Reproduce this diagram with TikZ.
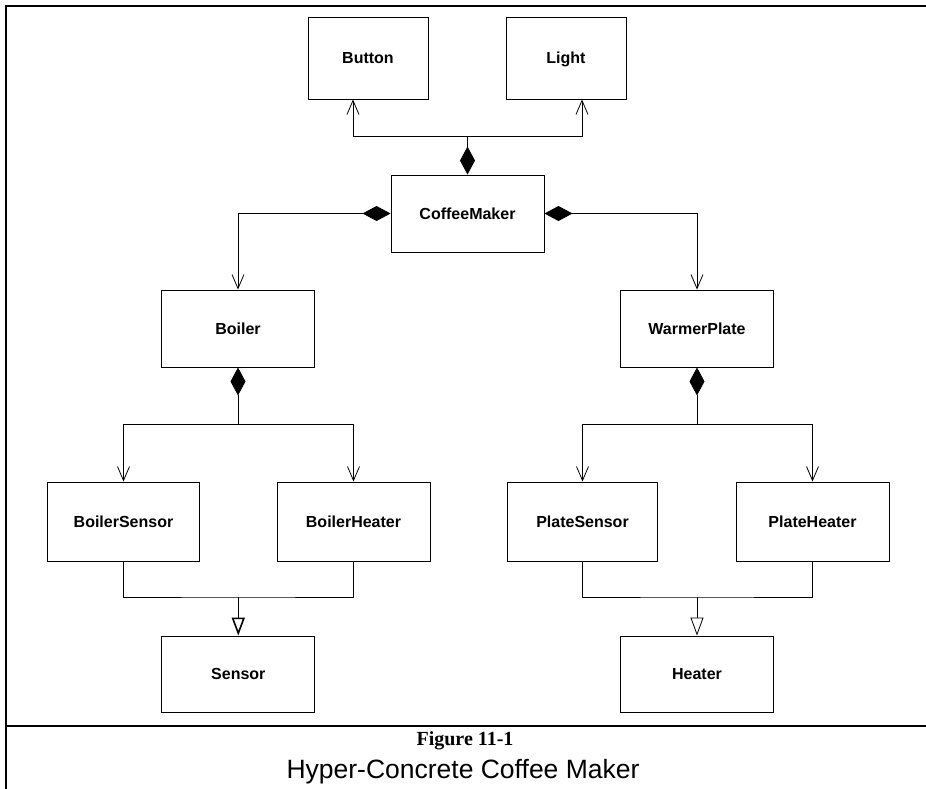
\documentclass[tikz,border=0pt]{standalone}
\usepackage{fontspec}
\setmainfont{Liberation Serif}
\setsansfont{Liberation Sans}
\usetikzlibrary{arrows.meta}
\begin{document}
\begin{tikzpicture}[x=1pt,y=-1pt,
  cls/.style={draw,line width=0.9pt,inner sep=0pt,minimum width=153pt,minimum height=77pt,
    text height=11.5pt,text depth=0pt,
    font=\sffamily\bfseries\fontsize{16}{18}\selectfont},
  link/.style={line width=0.8pt},
  comp/.style={link,{Diamond[length=28pt,width=15pt]}-{Straight Barb[length=14pt,width=12pt,line width=0.8pt]}},
  compstem/.style={link,{Diamond[length=28pt,width=15pt]}-},
  assoc/.style={link,-{Straight Barb[length=14pt,width=12pt,line width=0.8pt]}},
  gen/.style={link,-{Triangle[open,length=18pt,width=13pt,fill=white]}},
  frame/.style={line width=2pt}]
\useasboundingbox (0,0) rectangle (926,789);
% frame
\draw[frame] (6,789) -- (6,6) -- (926,6);
\draw[frame] (6,726) -- (926,726);
% classes
\node[cls,minimum width=120pt,minimum height=82pt] (button) at (368,58) {Button};
\node[cls,minimum width=120pt,minimum height=82pt] (light) at (566,58) {Light};
\node[cls] (coffee) at (467.5,213.5) {CoffeeMaker};
\node[cls] (boiler) at (238,328.5) {Boiler};
\node[cls] (warmer) at (697,328.5) {WarmerPlate};
\node[cls,minimum width=152pt,minimum height=79pt] (bsensor) at (123.5,521.5) {BoilerSensor};
\node[cls,minimum height=79pt] (bheater) at (353.5,521.5) {BoilerHeater};
\node[cls,minimum width=150pt,minimum height=79pt] (psensor) at (582.5,521.5) {PlateSensor};
\node[cls,minimum height=79pt] (pheater) at (812.5,521.5) {PlateHeater};
\node[cls,minimum height=76pt] (sensor) at (238.3,674) {Sensor};
\node[cls,minimum height=76pt] (heater) at (697,674) {Heater};
% composition: CoffeeMaker -> Button, Light
\draw[compstem] (coffee.north) -- ++(0,-38) coordinate (j1);
\draw[assoc] (j1) -| ([xshift=-15pt]button.south);
\draw[assoc] (j1) -| ([xshift=16pt]light.south);
% CoffeeMaker -> Boiler, WarmerPlate
\draw[comp] (coffee.west) -| (boiler.north);
\draw[comp] (coffee.east) -| (warmer.north);
% Boiler -> BoilerSensor, BoilerHeater
\draw[compstem] (boiler.south) -- ++(0,57) coordinate (j2);
\draw[assoc] (j2) -| (bsensor.north);
\draw[assoc] (j2) -| (bheater.north);
% WarmerPlate -> PlateSensor, PlateHeater
\draw[compstem] (warmer.south) -- ++(0,57) coordinate (j3);
\draw[assoc] (j3) -| (psensor.north);
\draw[assoc] (j3) -| (pheater.north);
% generalization
\coordinate (g1) at (238.3,597);
\coordinate (g2) at (697,597);
\draw[link] (bsensor.south) |- (g1) -| (bheater.south);
\draw[gen,line width=1.6pt] (g1) -- (sensor.north);
\draw[link] (psensor.south) |- (g2) -| (pheater.south);
\draw[gen] (g2) -- (heater.north);
% caption
\node[font=\bfseries\fontsize{20}{22}\selectfont] (cap1) at (465,741) {Figure 11-1};
\node[font=\sffamily\fontsize{26.5}{28}\selectfont] (cap2) at (463,772) {Hyper-Concrete Coffee Maker};
\end{tikzpicture}
\end{document}
